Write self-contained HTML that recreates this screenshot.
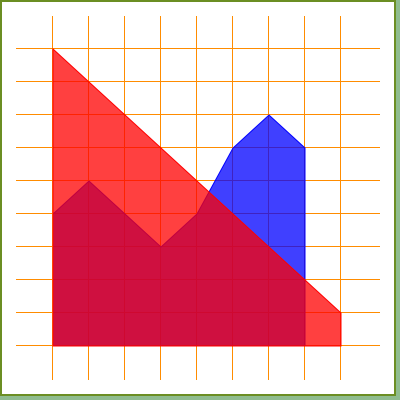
<!DOCTYPE html>
<html><head><meta charset="utf-8"><style>
body{margin:0;width:400px;height:400px;background:#8fbc8f;overflow:hidden}
#frame{position:absolute;left:0;top:0;width:392px;height:392px;border:2px solid #6b8e23;background:#fff}
svg{position:absolute;left:0;top:0}
</style></head><body>
<div id="frame"></div>
<svg id="chart" width="400" height="400"></svg>
<script>
const categories=[0,1,2,3,4,5,6,7,8];
const redValues=[9,8,7,6,5,4,3,2,1];
const blueValues=[4,5,4,3,4,6,7,6];
const yTicks=[0,1,2,3,4,5,6,7,8,9];
const NS='http://www.w3.org/2000/svg';
const svg=document.getElementById('chart');
const xs=i=>53+36*i;
const ys=v=>346-33*v;
function mk(tag,attrs){const e=document.createElementNS(NS,tag);for(const k in attrs)e.setAttribute(k,attrs[k]);svg.appendChild(e);return e;}
categories.forEach((c,i)=>{
  const l=mk('line',{x1:xs(i)-0.5,x2:xs(i)-0.5,y1:16,y2:380,stroke:'#ff8c00','stroke-width':1,'shape-rendering':'crispEdges'});
  
  
});
yTicks.forEach(v=>{
  const l=mk('line',{x1:16,x2:380,y1:ys(v)-0.5,y2:ys(v)-0.5,stroke:'#ff8c00','stroke-width':1,'shape-rendering':'crispEdges'});
  
  
});
function area(vals,fill,stroke){
  let pts=vals.map((v,i)=>xs(i)+','+ys(v));
  pts.push(xs(vals.length-1)+','+ys(0));pts.push(xs(0)+','+ys(0));
  return mk('polygon',{points:pts.join(' '),fill:fill,'fill-opacity':0.75,stroke:stroke,'stroke-width':1});
}
const b=area(blueValues,'#0000ff','#0000ff');


const r=area(redValues,'#ff0000','#ff0000');


</script>
</body></html>
